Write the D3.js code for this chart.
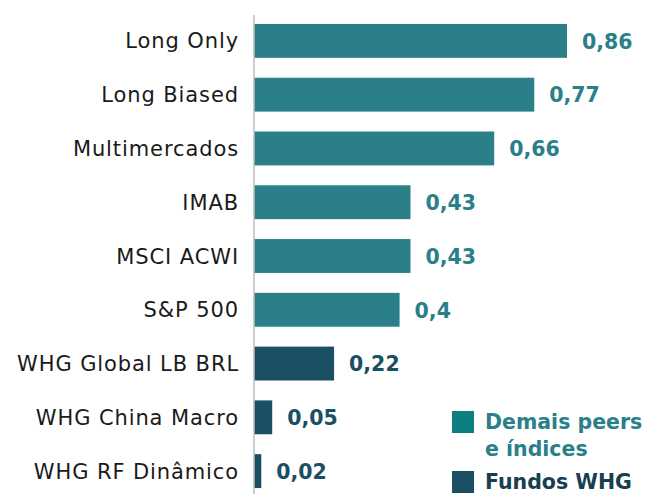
<!DOCTYPE html>
<html><head><meta charset="utf-8">
<script src="https://cdn.jsdelivr.net/npm/d3@7"></script>
<style>body{margin:0;background:#fff}svg{display:block}</style>
</head><body>
<svg id="c" width="647" height="494"></svg>
<script>
const categories = ["Long Only","Long Biased","Multimercados","IMAB","MSCI ACWI","S&P 500","WHG Global LB BRL","WHG China Macro","WHG RF Dinâmico"];
const values = [0.86,0.77,0.66,0.43,0.43,0.4,0.22,0.05,0.02];
const valueLabels = ["0,86","0,77","0,66","0,43","0,43","0,4","0,22","0,05","0,02"];
const groups = ["peers","peers","peers","peers","peers","peers","whg","whg","whg"];
const legendLabels = [["Demais peers","e índices"],["Fundos WHG"]];

const barColor = {peers:"#2a7f88", whg:"#1b4f63"};
const textColor = {peers:"#2a7f88", whg:"#1b4f63"};
const legendSwatch = ["#0d7f80","#1b4f63"];
const legendText = ["#2a8089","#163f4f"];
const font = "'DejaVu Sans', sans-serif";

const svg = d3.select("#c");
const x = d3.scaleLinear().domain([0,0.86]).range([254,567]);
const y = d3.scaleBand().domain(categories).range([14,498]).paddingInner(0.37).paddingOuter(0.185);

svg.selectAll("rect.bar").data(categories).join("rect").attr("class","bar")
  .attr("x", x(0)).attr("y", d=>y(d))
  .attr("width", (d,i)=>x(values[i])-x(0)).attr("height", y.bandwidth())
  .attr("fill", (d,i)=>barColor[groups[i]]);

svg.selectAll("text.val").data(categories).join("text").attr("class","val")
  .attr("x", (d,i)=>x(values[i])+15).attr("y", d=>y(d)+y.bandwidth()/2)
  .attr("dy","0.38em")
  .attr("font-family",font).attr("font-weight","bold").attr("font-size",20.5)
  .attr("fill",(d,i)=>textColor[groups[i]])
  .text((d,i)=>valueLabels[i]);

const ax = svg.append("g").attr("transform",`translate(${x(0)},0)`)
  .call(d3.axisLeft(y).tickSize(0).tickPadding(15));
ax.select(".domain").attr("stroke","#bdbdbd").attr("stroke-width",1.5).attr("d","M0,15V494");
ax.selectAll("text").attr("font-family",font).attr("font-size",21).attr("letter-spacing","0.9px")
  .attr("dy","0.36em").attr("fill","#1a1a1a");

// legend
const lg = svg.append("g");
const ly = [411, 471];
lg.selectAll("rect").data(legendSwatch).join("rect")
  .attr("x",452).attr("y",(d,i)=>ly[i]).attr("width",22).attr("height",22).attr("fill",d=>d);
legendLabels.forEach((lines,i)=>{
  const t = lg.append("text").attr("x",485).attr("y",ly[i]+18)
    .attr("font-family",font).attr("font-weight","bold").attr("font-size",20.5).attr("fill",legendText[i]);
  lines.forEach((l,j)=>t.append("tspan").attr("x",485).attr("dy",j?27:0).text(l));
});
</script>
</body></html>
